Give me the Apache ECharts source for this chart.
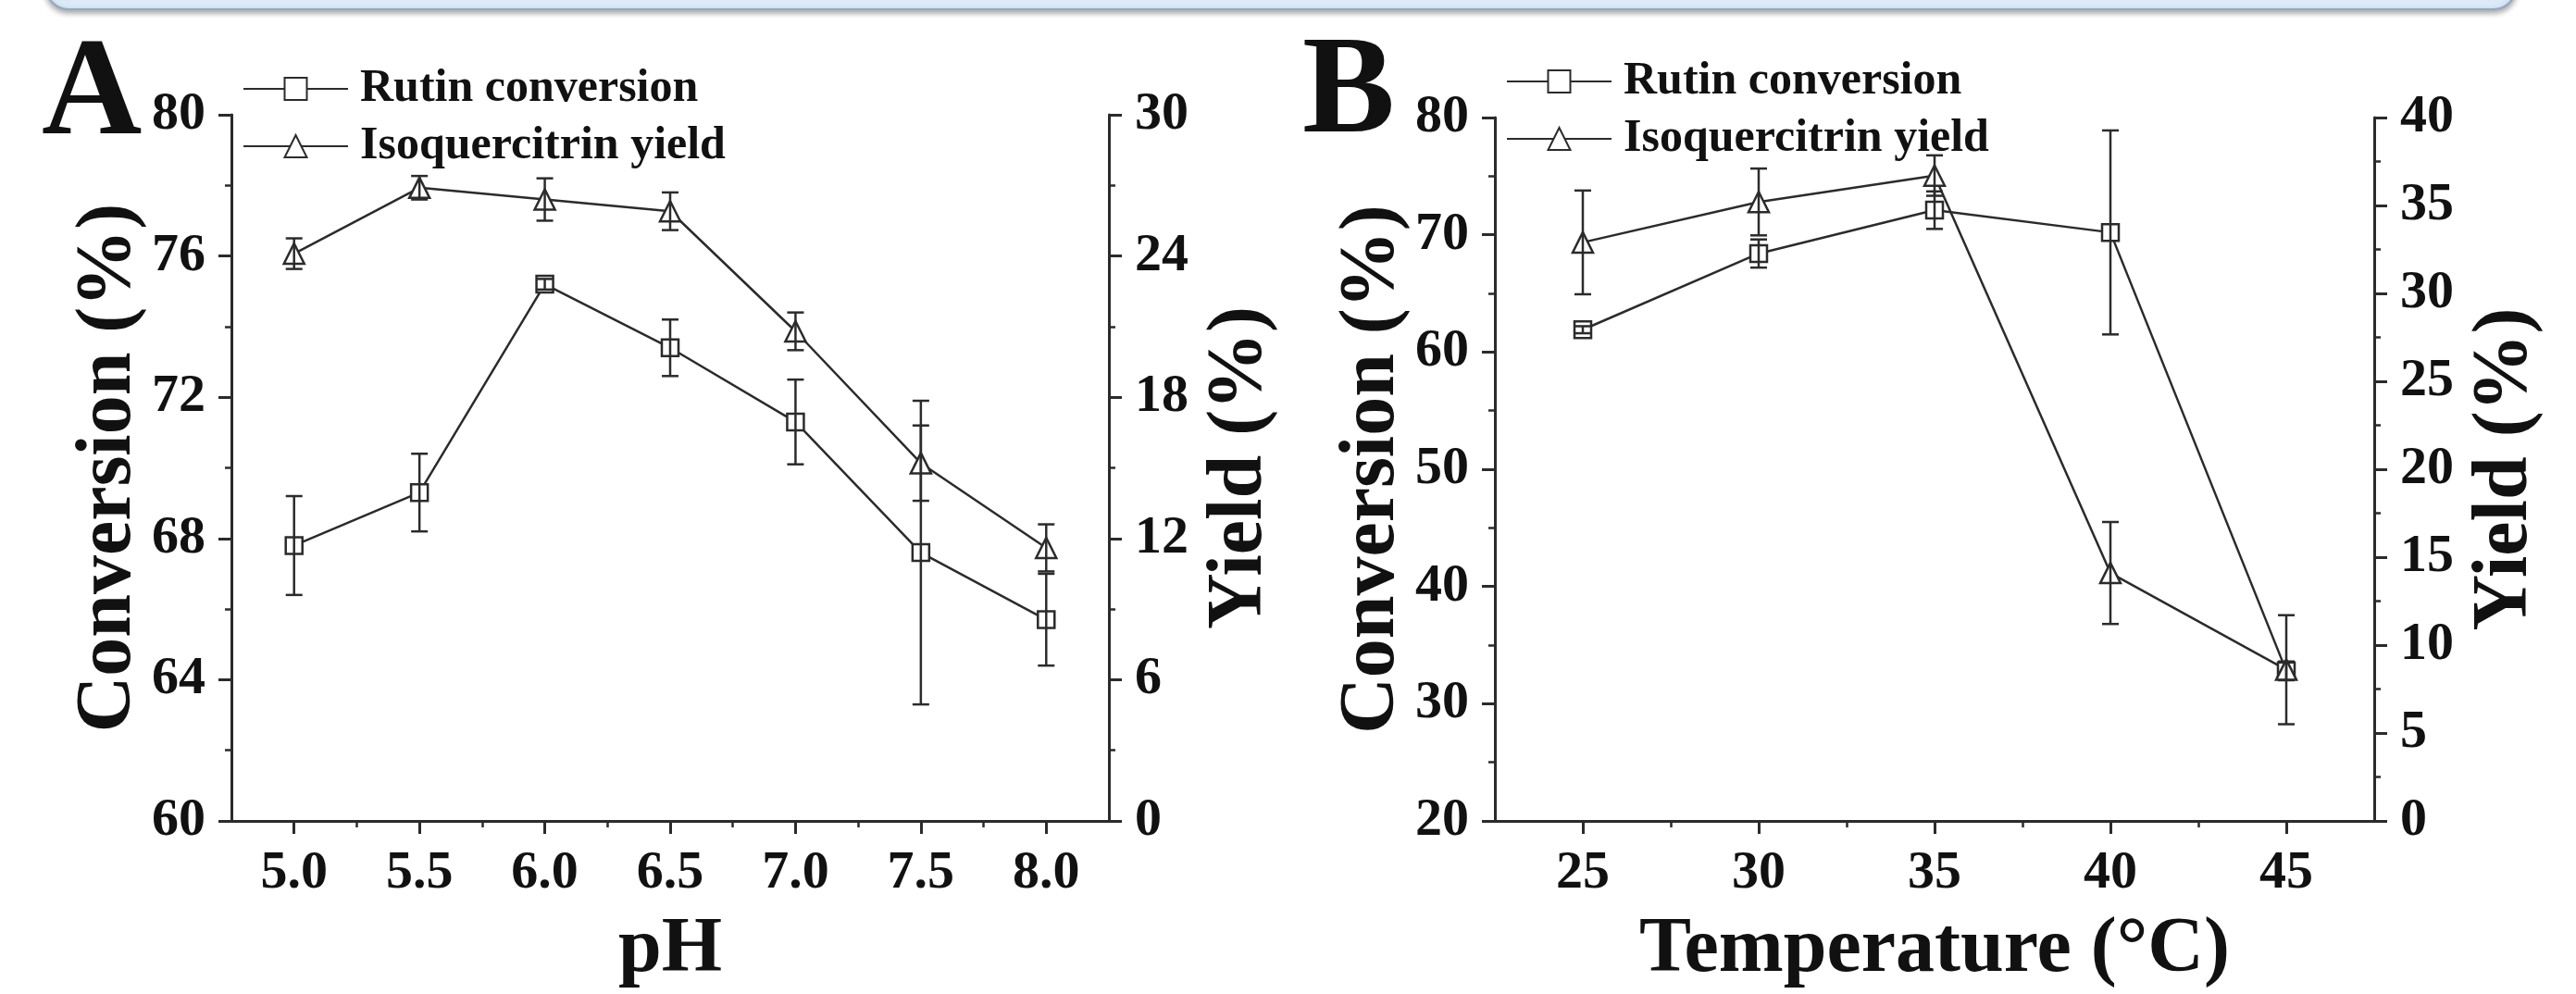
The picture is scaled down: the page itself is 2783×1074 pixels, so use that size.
<!DOCTYPE html>
<html>
<head>
<meta charset="utf-8">
<script src="https://cdn.jsdelivr.net/npm/echarts@6/dist/echarts.min.js"></script>
<style>
    html, body { margin: 0; padding: 0; background: #fff; }
    #chart { width: 2783px; height: 1074px; }
</style>
</head>
<body>
<div id="chart"></div>
<script>
// panel A - pH
const phValues = [5.0, 5.5, 6.0, 6.5, 7.0, 7.5, 8.0]
const phConversion = [67.8, 69.3, 75.2, 73.4, 71.3, 67.6, 65.7]
const phConversionErr = [1.4, 1.1, 0.15, 0.8, 1.2, 4.3, 1.3]
const phYield = [24.1, 26.9, 26.4, 25.9, 20.8, 15.2, 11.6]
const phYieldErr = [0.65, 0.5, 0.9, 0.8, 0.8, 1.6, 1.0]
const phTicks = [5.0, 5.5, 6.0, 6.5, 7.0, 7.5, 8.0]
const phMinorTicks = [5.25, 5.75, 6.25, 6.75, 7.25, 7.75]

// panel B - temperature
const tempValues = [25, 30, 35, 40, 45]
const tempConversion = [61.9, 68.4, 72.1, 70.2, 32.8]
const tempConversionErr = [0.3, 1.2, 1.6, 8.7, 0.8]
const tempYield = [32.9, 35.2, 36.7, 14.1, 8.6]
const tempYieldErr = [2.95, 1.9, 1.15, 2.9, 3.1]
const tempTicks = [25, 30, 35, 40, 45]
const tempMinorTicks = [27.5, 32.5, 37.5, 42.5]

const legendNames = ['Rutin conversion', 'Isoquercitrin yield']

const FONT = 'Liberation Serif'
const INK = '#111'
const LINE_COLOR = '#2b2b2b'

/** 坐标轴通用样式 */
function axisStyle() {
    return {
        axisLine: { show: true, lineStyle: { color: LINE_COLOR, width: 3 } },
        axisTick: { show: true, inside: false, length: 14, lineStyle: { color: LINE_COLOR, width: 3 } },
        minorTick: { show: true, splitNumber: 2, length: 7, lineStyle: { color: LINE_COLOR, width: 2.5 } },
        splitLine: { show: false },
        axisLabel: {
            margin: 28,
            color: INK,
            fontSize: 58,
            fontWeight: 'bold',
            fontFamily: FONT,
        },
        nameTextStyle: {
            color: INK,
            fontSize: 84,
            fontWeight: 'bold',
            fontFamily: FONT,
        },
    }
}

function xAxisMain(gridIndex, min, max, ticks, name, digits) {
    const base = axisStyle()
    return {
        ...base,
        type: 'value',
        gridIndex,
        position: 'bottom',
        min,
        max,
        name,
        nameLocation: 'middle',
        nameGap: 98,
        minorTick: { show: false },
        axisTick: { ...base.axisTick, customValues: ticks },
        axisLabel: { ...base.axisLabel, customValues: ticks, formatter: (v) => v.toFixed(digits) },
    }
}

// 次刻度单独用一条隐藏的轴画
function xAxisMinor(gridIndex, min, max, ticks) {
    return {
        type: 'value',
        gridIndex,
        position: 'bottom',
        min,
        max,
        axisLine: { show: false, onZero: false },
        axisLabel: { show: false },
        splitLine: { show: false },
        axisTick: { show: true, length: 7, customValues: ticks, lineStyle: { color: LINE_COLOR, width: 2.5 } },
    }
}

function yAxis(gridIndex, position, min, max, interval, name, nameGap) {
    return {
        ...axisStyle(),
        type: 'value',
        gridIndex,
        position,
        min,
        max,
        interval,
        name,
        nameLocation: 'middle',
        nameRotate: 90,
        nameGap,
    }
}

function lineSeries(name, symbol, size, xIdx, yIdx, xs, ys) {
    return {
        name,
        type: 'line',
        xAxisIndex: xIdx,
        yAxisIndex: yIdx,
        symbol,
        symbolSize: size,
        showAllSymbol: true,
        z: 3,
        lineStyle: { color: LINE_COLOR, width: 2.5 },
        itemStyle: { color: '#fff', borderColor: LINE_COLOR, borderWidth: 2.5 },
        data: xs.map((x, i) => [x, ys[i]]),
    }
}

// 误差棒
function errorBarSeries(xIdx, yIdx, xs, ys, errs) {
    return {
        type: 'custom',
        xAxisIndex: xIdx,
        yAxisIndex: yIdx,
        silent: true,
        z: 4,
        encode: { x: 0, y: [1, 2] },
        renderItem(params, api) {
            const x = api.value(0)
            const lo = api.coord([x, api.value(1)])
            const hi = api.coord([x, api.value(2)])
            const half = 9
            const style = { stroke: LINE_COLOR, lineWidth: 2.5 }
            return {
                type: 'group',
                children: [
                    { type: 'line', shape: { x1: hi[0], y1: hi[1], x2: lo[0], y2: lo[1] }, style },
                    { type: 'line', shape: { x1: hi[0] - half, y1: hi[1], x2: hi[0] + half, y2: hi[1] }, style },
                    { type: 'line', shape: { x1: lo[0] - half, y1: lo[1], x2: lo[0] + half, y2: lo[1] }, style },
                ],
            }
        },
        data: xs.map((x, i) => [x, ys[i] - errs[i], ys[i] + errs[i]]),
    }
}

function legend(left, top) {
    return {
        left,
        top,
        orient: 'vertical',
        itemWidth: 113,
        itemHeight: 30,
        itemGap: 12,
        selectedMode: false,
        textStyle: { color: INK, fontSize: 50, fontWeight: 'bold', fontFamily: FONT, padding: [0, 0, 0, 8] },
        data: legendNames,
    }
}

const option = {
    backgroundColor: '#fff',
    animation: false,
    graphic: [
        {
            type: 'rect',
            shape: { x: 50, y: -40, width: 2668, height: 50, r: 24 },
            style: {
                fill: '#dce9f7',
                stroke: '#8ea9c8',
                lineWidth: 2,
                shadowBlur: 6,
                shadowOffsetY: 3,
                shadowColor: 'rgba(0,0,0,0.35)',
            },
        },
        { type: 'text', x: 45, y: 105, style: { text: 'A', font: 'bold 150px "Liberation Serif"', fill: INK, verticalAlign: 'middle' } },
        { type: 'text', x: 1407, y: 103, style: { text: 'B', font: 'bold 150px "Liberation Serif"', fill: INK, verticalAlign: 'middle' } },
    ],
    legend: [legend(257, 66), legend(1622, 58)],
    grid: [
        { left: 250, top: 124, width: 948, height: 764 },
        { left: 1615, top: 127, width: 950, height: 762 },
    ],
    xAxis: [
        xAxisMain(0, 4.75, 8.25, phTicks, 'pH', 1),
        xAxisMinor(0, 4.75, 8.25, phMinorTicks),
        xAxisMain(1, 22.5, 47.5, tempTicks, 'Temperature (°C)', 0),
        xAxisMinor(1, 22.5, 47.5, tempMinorTicks),
    ],
    yAxis: [
        yAxis(0, 'left', 60, 80, 4, 'Conversion (%)', 88),
        yAxis(0, 'right', 0, 30, 6, 'Yield (%)', 100),
        yAxis(1, 'left', 20, 80, 10, 'Conversion (%)', 90),
        yAxis(1, 'right', 0, 40, 5, 'Yield (%)', 100),
    ],
    series: [
        lineSeries(legendNames[0], 'rect', 18, 0, 0, phValues, phConversion),
        lineSeries(legendNames[1], 'triangle', 22, 0, 1, phValues, phYield),
        errorBarSeries(0, 0, phValues, phConversion, phConversionErr),
        errorBarSeries(0, 1, phValues, phYield, phYieldErr),
        lineSeries(legendNames[0], 'rect', 18, 2, 2, tempValues, tempConversion),
        lineSeries(legendNames[1], 'triangle', 22, 2, 3, tempValues, tempYield),
        errorBarSeries(2, 2, tempValues, tempConversion, tempConversionErr),
        errorBarSeries(2, 3, tempValues, tempYield, tempYieldErr),
    ],
}

const myChart = echarts.init(document.getElementById('chart'))
myChart.setOption(option)
</script>
</body>
</html>
